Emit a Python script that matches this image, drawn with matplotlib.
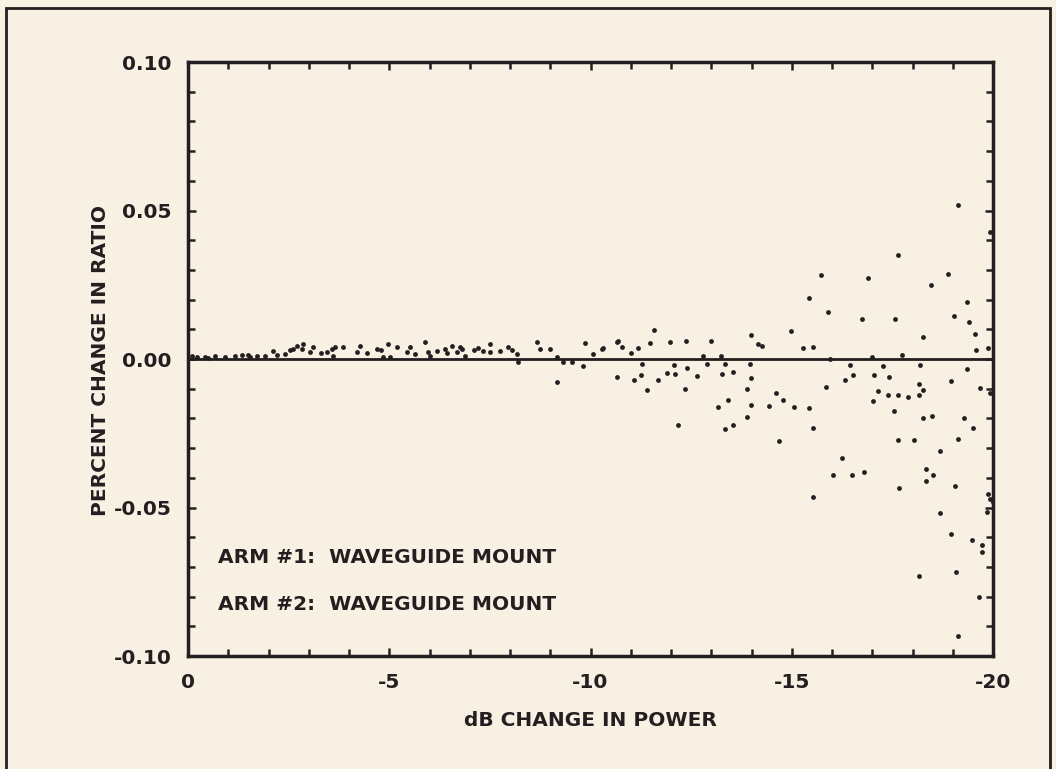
import matplotlib
matplotlib.use("Agg")
import matplotlib.pyplot as plt
from matplotlib.ticker import MultipleLocator, FuncFormatter
from matplotlib.patches import Rectangle

# dB change in power (x) and percent change in ratio (y)
db_change = [
    -0.10, -0.22, -0.42, -0.50, -0.67, -0.92, -1.17, -1.34, -1.50, -1.54, -1.71, -1.91,
    -2.11, -2.20, -2.41, -2.53, -2.61, -2.70, -2.83, -2.86, -3.03, -3.10, -3.30, -3.45,
    -3.58, -3.60, -3.65, -3.85, -4.20, -4.27, -4.45, -4.70, -4.80, -4.84, -4.97, -5.02,
    -5.20, -5.44, -5.52, -5.64, -5.89, -5.96, -6.01, -6.19, -6.39, -6.43, -6.55, -6.68,
    -6.76, -6.81, -6.88, -7.10, -7.20, -7.33, -7.50, -7.50, -7.75, -7.95, -8.05, -8.17,
    -8.20, -8.67, -8.75, -8.99, -9.17, -9.17, -9.32, -9.54, -9.81, -9.86, -10.06, -10.29,
    -10.31, -10.66, -10.66, -10.68, -10.78, -11.01, -11.08, -11.18, -11.25, -11.28, -11.40,
    -11.48, -11.58, -11.68, -11.90, -11.98, -12.07, -12.10, -12.17, -12.35, -12.37, -12.40,
    -12.65, -12.80, -12.89, -12.99, -13.17, -13.24, -13.27, -13.34, -13.34, -13.42, -13.54,
    -13.54, -13.89, -13.89, -13.96, -13.99, -13.99, -13.99, -14.16, -14.26, -14.43, -14.61,
    -14.68, -14.78, -14.98, -15.06, -15.28, -15.43, -15.43, -15.53, -15.53, -15.53, -15.73,
    -15.85, -15.90, -15.95, -16.02, -16.25, -16.32, -16.45, -16.50, -16.52, -16.75, -16.80,
    -16.89, -16.99, -17.02, -17.04, -17.14, -17.27, -17.39, -17.42, -17.54, -17.57, -17.64,
    -17.64, -17.64, -17.66, -17.74, -17.89, -18.04, -18.16, -18.16, -18.16, -18.19, -18.26,
    -18.26, -18.26, -18.34, -18.34, -18.46, -18.48, -18.51, -18.68, -18.68, -18.88, -18.96,
    -18.96, -19.03, -19.06, -19.08, -19.13, -19.13, -19.13, -19.28, -19.35, -19.35, -19.40,
    -19.48, -19.50, -19.55, -19.58, -19.65, -19.68, -19.73, -19.73, -19.85, -19.88, -19.88,
    -19.93, -19.93, -19.93, -20.00,
]
pct_change = [
    0.0010, 0.0007, 0.0007, 0.0005, 0.0010, 0.0007, 0.0010, 0.0014, 0.0015, 0.0007, 0.0010, 0.0010,
    0.0027, 0.0015, 0.0017, 0.0030, 0.0034, 0.0045, 0.0034, 0.0051, 0.0024, 0.0040, 0.0020, 0.0024,
    0.0034, 0.0010, 0.0041, 0.0040, 0.0024, 0.0044, 0.0020, 0.0034, 0.0030, 0.0007, 0.0051, 0.0007,
    0.0040, 0.0024, 0.0041, 0.0017, 0.0057, 0.0024, 0.0010, 0.0027, 0.0034, 0.0020, 0.0045, 0.0024,
    0.0041, 0.0034, 0.0010, 0.0030, 0.0038, 0.0027, 0.0051, 0.0024, 0.0027, 0.0041, 0.0030, 0.0017,
    -0.0010, 0.0057, 0.0034, 0.0034, 0.0007, -0.0078, -0.0010, -0.0010, -0.0024, 0.0054, 0.0017, 0.0034,
    0.0037, 0.0057, -0.0061, 0.0061, 0.0041, 0.0020, -0.0071, 0.0037, -0.0054, -0.0017, -0.0105,
    0.0054, 0.0098, -0.0071, -0.0047, 0.0057, -0.0020, -0.0051, -0.0223, -0.0101, 0.0061, -0.0030,
    -0.0057, 0.0010, -0.0017, 0.0061, -0.0162, 0.0010, -0.0051, -0.0017, -0.0236, -0.0139, -0.0044,
    -0.0223, -0.0101, -0.0196, -0.0017, 0.0081, -0.0064, -0.0155, 0.0051, 0.0044, -0.0159, -0.0115,
    -0.0277, -0.0139, 0.0095, -0.0162, 0.0037, 0.0206, -0.0166, 0.0041, -0.0233, -0.0463, 0.0284,
    -0.0095, 0.0159, 0.0000, -0.0389, -0.0334, -0.0071, -0.0020, -0.0389, -0.0054, 0.0135, -0.0382,
    0.0274, 0.0007, -0.0142, -0.0054, -0.0108, -0.0024, -0.0122, -0.0061, -0.0176, 0.0135, 0.0351,
    -0.0122, -0.0274, -0.0436, 0.0014, -0.0128, -0.0274, -0.0084, -0.0122, -0.0730, -0.0020, 0.0074,
    -0.0105, -0.0199, -0.0372, -0.0412, 0.0250, -0.0193, -0.0389, -0.0311, -0.0517, 0.0287, -0.0074,
    -0.0588, 0.0145, -0.0429, -0.0716, 0.0520, -0.0270, -0.0932, -0.0199, 0.0193, -0.0034, 0.0125,
    -0.0611, -0.0233, 0.0084, 0.0030, -0.0801, -0.0098, -0.0625, -0.0649, -0.0514, 0.0037, -0.0456,
    0.0429, -0.0115, -0.0473, -0.0483,
]

x_ticks = [0, -5, -10, -15, -20]
y_ticks = [-0.10, -0.05, 0.00, 0.05, 0.10]
annotations = ["ARM #1:  WAVEGUIDE MOUNT", "ARM #2:  WAVEGUIDE MOUNT"]
x_label = "dB CHANGE IN POWER"
y_label = "PERCENT CHANGE IN RATIO"

bg = "#f8f0e3"
ink = "#231f20"
plt.rcParams['font.family'] = ['DejaVu Sans']
FS = 14.5

fig = plt.figure(figsize=(10.56, 7.69), dpi=100, facecolor=bg)
ax = fig.add_axes([188/1056, 1 - 656/769, (993-188)/1056, (656-62)/769])
ax.set_facecolor(bg)

fig.patches.append(Rectangle((6/1056, -0.02), (1050-6)/1056, 1 - 8/769 + 0.02,
                             transform=fig.transFigure, fill=False,
                             edgecolor=ink, linewidth=2.0, zorder=0))

ax.axhline(0, color=ink, linewidth=2.0, zorder=2)
ax.scatter(db_change, pct_change, s=12, color=ink, linewidths=0, zorder=3)

ax.set_xlim(0, -20)
ax.set_ylim(-0.10, 0.10)
ax.set_xticks(x_ticks)
ax.set_yticks(y_ticks)
ax.xaxis.set_minor_locator(MultipleLocator(1))
ax.yaxis.set_minor_locator(MultipleLocator(0.01))
ax.xaxis.set_major_formatter(FuncFormatter(lambda v, p: f"{v:g}" if v != 0 else "0"))
ax.yaxis.set_major_formatter(FuncFormatter(lambda v, p: f"{v:.2f}" if abs(v) > 1e-9 else "0.00"))
ax.tick_params(which='both', direction='in', top=True, right=True, color=ink,
               width=1.8, labelsize=FS, labelcolor=ink)
ax.tick_params(which='major', length=6, pad=12)
ax.tick_params(which='minor', length=5)
for lab in ax.get_xticklabels() + ax.get_yticklabels():
    lab.set_fontweight('bold')
for sp in ax.spines.values():
    sp.set_linewidth(2.5)
    sp.set_color(ink)

ax.text(-0.75, -0.0668, annotations[0], fontsize=FS, fontweight='bold', color=ink,
        ha='left', va='center')
ax.text(-0.75, -0.0826, annotations[1], fontsize=FS, fontweight='bold', color=ink,
        ha='left', va='center')

fig.text(590/1056, 1 - 720/769, x_label, fontsize=FS, fontweight='bold', color=ink,
         ha='center', va='center')
fig.text(101/1056, 1 - 360/769, y_label, fontsize=FS, fontweight='bold', color=ink,
         ha='center', va='center', rotation=90)

fig.savefig("out.png", dpi=100, facecolor=bg)
